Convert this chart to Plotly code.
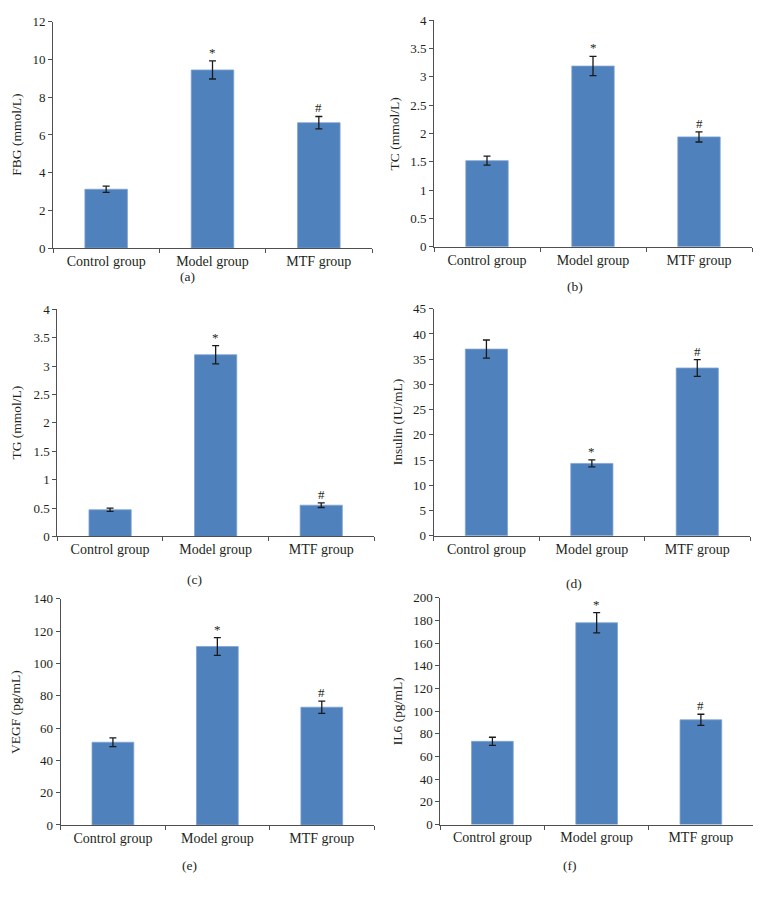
import plotly.graph_objects as go

categories = ["Control group", "Model group", "MTF group"]
marks = ["", "*", "#"]

fbg = [3.12, 9.45, 6.65]
fbg_err = [0.17, 0.48, 0.33]
tc = [1.52, 3.19, 1.94]
tc_err = [0.08, 0.17, 0.09]
tg = [0.47, 3.20, 0.55]
tg_err = [0.03, 0.16, 0.04]
insulin = [37.0, 14.35, 33.25]
insulin_err = [1.8, 0.7, 1.65]
vegf = [51.2, 110.5, 72.9]
vegf_err = [2.7, 5.5, 3.8]
il6 = [73.4, 178.0, 92.4]
il6_err = [3.6, 9.0, 4.9]

y_titles = ["FBG (mmol/L)", "TC (mmol/L)", "TG (mmol/L)",
            "Insulin (IU/mL)", "VEGF (pg/mL)", "IL6 (pg/mL)"]
panel_labels = ["(a)", "(b)", "(c)", "(d)", "(e)", "(f)"]
y_max = [12, 4, 4, 45, 140, 200]
y_step = [2, 0.5, 0.5, 5, 20, 20]

series = [(fbg, fbg_err), (tc, tc_err), (tg, tg_err),
          (insulin, insulin_err), (vegf, vegf_err), (il6, il6_err)]

W, H = 762, 899
OFF = 8  # page body margin offset
# plot boxes in page pixels: x0, x1, ytop, ybottom
boxes = [
    (53, 372, 15, 245),
    (434, 752, 13.3, 243.7),
    (57.3, 374, 307.3, 538.3),
    (433.7, 750, 306.7, 537.7),
    (60.7, 374, 601.7, 831.7),
    (440.3, 753, 600.7, 831.3),
]
label_pos = [(187.7, 274.3), (575, 284), (194, 581.7),
             (574, 586), (189, 872.7), (570, 872.7)]
ytitle_x = [16.7, 394, 16.7, 397, 16, 397]


def px(x):
    return (x - OFF) / W


def py(y):
    return 1 - (y - OFF) / H


FONT = "Liberation Serif, Times New Roman, serif"
BAR = "#4F81BD"
AX = "#505050"
TXT = "#231f20"

fig = go.Figure()
layout = dict(
    width=W, height=H,
    margin=dict(l=0, r=0, t=0, b=0),
    paper_bgcolor="white", plot_bgcolor="white",
    showlegend=False,
    font=dict(family=FONT, color=TXT, size=13),
    annotations=[],
)

for i, ((vals, errs), box) in enumerate(zip(series, boxes)):
    n = i + 1
    xa = "x" if n == 1 else f"x{n}"
    ya = "y" if n == 1 else f"y{n}"
    fig.add_trace(go.Bar(
        x=categories, y=vals, width=0.4,
        marker=dict(color=BAR, line=dict(color="#7fa3d3", width=0.8)),
        error_y=dict(type="data", array=errs, visible=True,
                     color="#1a1a1a", thickness=1.3, width=3.5),
        xaxis=xa, yaxis=ya, hoverinfo="skip",
    ))
    x0, x1, yt, yb = box
    xkey = "xaxis" if n == 1 else f"xaxis{n}"
    ykey = "yaxis" if n == 1 else f"yaxis{n}"
    layout[xkey] = dict(
        domain=[px(x0), px(x1)], anchor=ya,
        type="category", range=[-0.5, 2.5],
        showline=True, linecolor=AX, linewidth=1,
        ticks="outside", tickson="boundaries", ticklen=4, tickcolor=AX,
        tickfont=dict(size=14, family=FONT, color=TXT),
        showgrid=False, zeroline=False,
    )
    layout[ykey] = dict(
        domain=[py(yb), py(yt)], anchor=xa,
        range=[0, y_max[i]], dtick=y_step[i], tick0=0,
        showline=True, linecolor=AX, linewidth=1,
        ticks="outside", ticklen=4, tickcolor=AX,
        tickfont=dict(size=13, family=FONT, color=TXT),
        showgrid=False, zeroline=False,
    )
    # significance marks
    for c, v, e, m in zip(categories, vals, errs, marks):
        if m:
            layout["annotations"].append(dict(
                x=c, y=v + e, xref=xa, yref=ya, text=m, showarrow=False,
                yanchor="bottom", xanchor="center", yshift=-1,
                font=dict(size=13, family=FONT, color=TXT),
            ))
    # y-axis title
    layout["annotations"].append(dict(
        x=px(ytitle_x[i]), y=py((yt + yb) / 2), xref="paper", yref="paper",
        text=y_titles[i], textangle=-90, showarrow=False,
        xanchor="center", yanchor="middle",
        font=dict(size=13.5, family=FONT, color=TXT),
    ))
    # panel label
    lx, ly = label_pos[i]
    layout["annotations"].append(dict(
        x=px(lx), y=py(ly), xref="paper", yref="paper",
        text=panel_labels[i], showarrow=False,
        xanchor="center", yanchor="middle",
        font=dict(size=13.5, family=FONT, color=TXT),
    ))

fig.update_layout(**layout)
fig.write_html("out.html")
